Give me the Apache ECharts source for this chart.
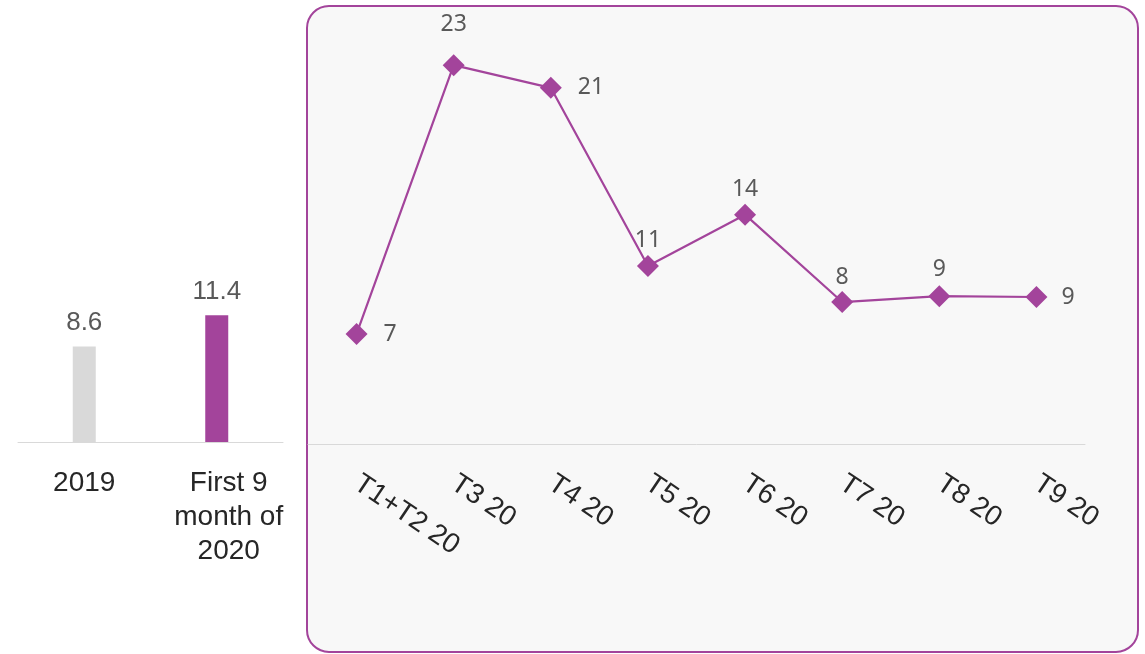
<!DOCTYPE html>
<html>
<head>
<meta charset="utf-8">
<script src="https://cdn.jsdelivr.net/npm/echarts@6/dist/echarts.min.js"></script>
<style>
html,body{margin:0;padding:0;background:#ffffff;}
#chart{width:1145px;height:654px;}
</style>
</head>
<body>
<div id="chart"></div>
<script>
// Left bar chart
const barCategories = ['2019', 'First 9 month of 2020'];
const barValues = [8.6, 11.4];
// Right line chart
const lineCategories = ['T1+T2 20', 'T3 20', 'T4 20', 'T5 20', 'T6 20', 'T7 20', 'T8 20', 'T9 20'];
const lineValues = [6.55, 22.55, 21.2, 10.6, 13.65, 8.45, 8.8, 8.75];

const labelPositions = ['right', 'top', 'right', 'top', 'top', 'top', 'top', 'right'];
const labelDistances = [16, 18, 16, 3, 3, 2, 4, 14];

const PURPLE = '#a3449b';
const GRAY_BAR = '#d9d9d9';

const chart = echarts.init(document.getElementById('chart'), null, {renderer: 'canvas'});

const barColors = [GRAY_BAR, PURPLE];

const option = {
  animation: false,
  backgroundColor: '#ffffff',
  graphic: [{
    type: 'rect',
    z: -10,
    shape: {x: 307, y: 6, width: 831, height: 646, r: 22},
    style: {fill: '#f8f8f8', stroke: PURPLE, lineWidth: 2}
  }],
  grid: [
    {left: 18, width: 265, top: 42, bottom: 212, containLabel: false},
    {left: 308, width: 777, top: 24, bottom: 210, containLabel: false}
  ],
  xAxis: [
    {
      type: 'category', gridIndex: 0, data: barCategories,
      axisLine: {lineStyle: {color: '#d9d9d9', width: 1}},
      axisTick: {show: false},
      axisLabel: {
        color: '#262626', fontFamily: 'Liberation Sans', fontSize: 28,
        lineHeight: 34, margin: 24, interval: 0,
        formatter: (v, i) => i === 1 ? '{s|First 9}\n{s|month of}\n{s|2020}' : v,
        rich: {s: {fontFamily: 'Liberation Sans', fontSize: 28, lineHeight: 34, color: '#262626', padding: [0, 0, 0, 24]}}
      }
    },
    {
      type: 'category', gridIndex: 1, data: lineCategories,
      axisLine: {lineStyle: {color: '#d9d9d9', width: 1}},
      axisTick: {show: false},
      axisLabel: {
        color: '#262626', fontFamily: 'Liberation Sans', fontSize: 28,
        rotate: -34, margin: 37, interval: 0
      }
    }
  ],
  yAxis: [
    {type: 'value', gridIndex: 0, min: 0, max: 36, show: false, splitLine: {show: false}},
    {type: 'value', gridIndex: 1, min: 0, max: 25, show: false, splitLine: {show: false}}
  ],
  series: [
    {
      type: 'bar', xAxisIndex: 0, yAxisIndex: 0, barWidth: 23,
      data: barValues.map((v, i) => ({value: v, itemStyle: {color: barColors[i]}})),
      label: {
        show: true, position: 'top', distance: 11, color: '#595959',
        fontFamily: 'Liberation Sans', fontSize: 26,
        formatter: p => p.value.toFixed(1)
      }
    },
    {
      type: 'line', xAxisIndex: 1, yAxisIndex: 1,
      symbol: 'diamond', symbolSize: 22,
      lineStyle: {color: PURPLE, width: 2.2},
      itemStyle: {color: PURPLE},
      data: lineValues.map((v, i) => ({
        value: v,
        label: {position: labelPositions[i], distance: labelDistances[i]}
      })),
      label: {
        show: true, color: '#595959',
        fontFamily: 'Noto Sans', fontSize: 23,
        formatter: p => String(Math.round(p.value))
      }
    }
  ]
};
chart.setOption(option);
</script>
</body>
</html>
